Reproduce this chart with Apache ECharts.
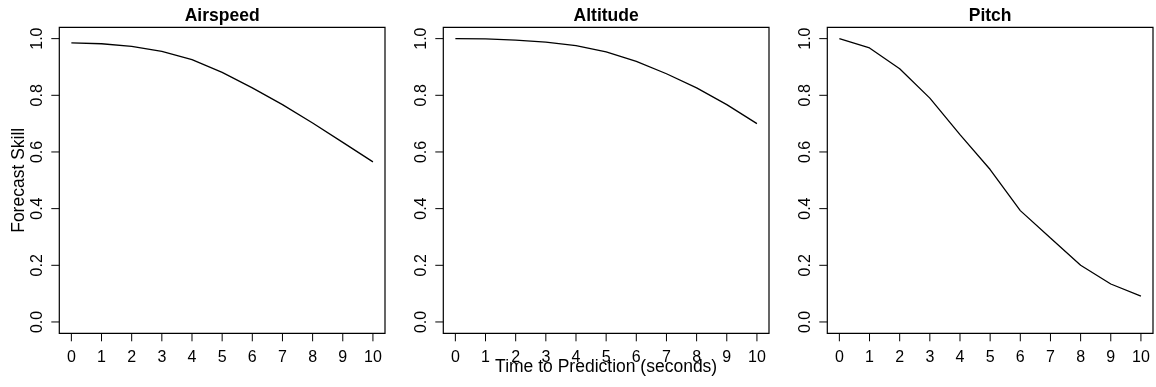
<!DOCTYPE html>
<html>
<head>
<meta charset="utf-8">
<script src="https://cdn.jsdelivr.net/npm/echarts@6/dist/echarts.min.js"></script>
<style>
  html, body { margin: 0; padding: 0; background: #fff; }
  #chart { width: 1156px; height: 387px; }
</style>
</head>
<body>
<div id="chart"></div>
<script>
const steps = [0, 1, 2, 3, 4, 5, 6, 7, 8, 9, 10]
const yTicks = [0, 0.2, 0.4, 0.6, 0.8, 1.0]
const panelTitles = ['Airspeed', 'Altitude', 'Pitch']
const airspeed = [0.985, 0.982, 0.973, 0.955, 0.926, 0.881, 0.826, 0.767, 0.702, 0.634, 0.565]
const altitude = [1.0, 0.999, 0.995, 0.988, 0.975, 0.953, 0.92, 0.876, 0.826, 0.767, 0.70]
const pitch = [1.0, 0.967, 0.894, 0.79, 0.661, 0.538, 0.393, 0.296, 0.2, 0.134, 0.091]
const skill = [airspeed, altitude, pitch]

const font = 'Liberation Sans, Arial, sans-serif'
const boxLefts = [59.3, 443.3, 827.3]
const boxW = 325.7
const boxTop = 27.3
const boxH = 306
// R style ranges: data padded by 4% each side
const xMin = -0.4, xMax = 10.4
const yMin = -0.04, yMax = 1.04
const tickLen = 8

const chart = echarts.init(document.getElementById('chart'))

// per panel: grid i = plot box, grid 3+i = strip under the box for x ticks,
// grid 6+i = strip left of the box for y ticks
const grids = []
const xAxes = []
const yAxes = []

boxLefts.forEach((l, i) => {
  grids.push({
    left: l, top: boxTop, width: boxW, height: boxH,
    show: true, borderColor: '#000', borderWidth: 1.2, backgroundColor: 'transparent'
  })
  xAxes.push({
    type: 'value', gridIndex: i, min: xMin, max: xMax,
    splitLine: {show: false},
    axisLine: {show: false, onZero: false},
    axisTick: {show: false},
    axisLabel: {
      customValues: steps, margin: 16, color: '#000', fontSize: 16, fontFamily: font,
      formatter: v => String(v)
    },
    name: i === 1 ? 'Time to Prediction (seconds)' : '',
    nameLocation: 'middle', nameGap: 25, nameMoveOverlap: false,
    nameTextStyle: {color: '#000', fontSize: 17.5, fontFamily: font}
  })
  yAxes.push({
    type: 'value', gridIndex: i, min: yMin, max: yMax,
    splitLine: {show: false},
    axisLine: {show: false, onZero: false},
    axisTick: {show: false},
    axisLabel: {
      customValues: yTicks, rotate: 90, margin: 14, color: '#000', fontSize: 16, fontFamily: font,
      formatter: v => v.toFixed(1)
    },
    name: i === 0 ? 'Forecast Skill' : '',
    nameLocation: 'middle', nameGap: 31, nameMoveOverlap: false,
    nameTextStyle: {color: '#000', fontSize: 17.5, fontFamily: font}
  })
})

boxLefts.forEach((l, i) => {
  grids.push({left: l, top: boxTop + boxH, width: boxW, height: tickLen, show: false})
  xAxes.push({type: 'value', gridIndex: 3 + i, min: xMin, max: xMax, show: false})
  yAxes.push({type: 'value', gridIndex: 3 + i, min: 0, max: 1, show: false})
})
boxLefts.forEach((l, i) => {
  grids.push({left: l - tickLen, top: boxTop, width: tickLen, height: boxH, show: false})
  xAxes.push({type: 'value', gridIndex: 6 + i, min: 0, max: 1, show: false})
  yAxes.push({type: 'value', gridIndex: 6 + i, min: yMin, max: yMax, show: false})
})

const titles = panelTitles.map((t, i) => ({
  text: t, left: boxLefts[i] + boxW / 2, top: 7.5, textAlign: 'center', padding: 0,
  textStyle: {color: '#000', fontSize: 17.5, fontWeight: 'bold', fontFamily: font}
}))

// one short line series per tick mark, spanning its strip
const tickLine = (gi, data) => ({
  type: 'line', xAxisIndex: gi, yAxisIndex: gi, data,
  symbol: 'none', silent: true, clip: false,
  lineStyle: {color: '#000', width: 1}
})

const series = []
skill.forEach((vals, i) => {
  series.push({
    type: 'line', xAxisIndex: i, yAxisIndex: i,
    data: steps.map((s, k) => [s, vals[k]]),
    symbol: 'none', smooth: false,
    lineStyle: {color: '#000', width: 1.3}
  })
  steps.forEach(v => series.push(tickLine(3 + i, [[v, 0], [v, 1]])))
  yTicks.forEach(v => series.push(tickLine(6 + i, [[0, v], [1, v]])))
})

chart.setOption({
  animation: false,
  backgroundColor: '#fff',
  title: titles,
  grid: grids,
  xAxis: xAxes,
  yAxis: yAxes,
  series
})
</script>
</body>
</html>
